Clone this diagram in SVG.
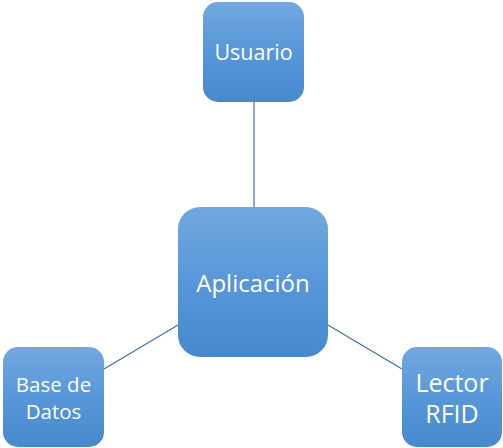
<svg xmlns="http://www.w3.org/2000/svg" width="503" height="448" viewBox="0 0 503 448">
  <style>
    .box { fill: url(#boxFill); }
    .lbl { fill: #ffffff; font-family: "Open Sans", "Liberation Sans", sans-serif; text-anchor: middle; dominant-baseline: central; }
    .link { stroke: #41719c; stroke-width: 1.2; fill: none; }
  </style>
  <defs>
    <linearGradient id="boxFill" x1="0" y1="0" x2="0" y2="1">
      <stop offset="0" stop-color="#72a8df"/>
      <stop offset="0.5" stop-color="#5797d9"/>
      <stop offset="1" stop-color="#4689cc"/>
    </linearGradient>
  </defs>
  <rect width="503" height="448" fill="#ffffff"/>
  <g id="connectors">
    <line class="link" x1="254" y1="102" x2="254" y2="207"/>
    <line class="link" x1="104" y1="369" x2="178" y2="325"/>
    <line class="link" x1="328" y1="325" x2="402" y2="369"/>
  </g>
  <g id="usuario">
    <rect class="box" x="203" y="2" width="101" height="100" rx="15"/>
    <text class="lbl" x="253.5" y="51" font-size="21.5">Usuario</text>
  </g>
  <g id="aplicacion">
    <rect class="box" x="178" y="207" width="150" height="150" rx="22"/>
    <text class="lbl" x="253" y="282" font-size="24">Aplicación</text>
  </g>
  <g id="base-datos">
    <rect class="box" x="3" y="347" width="101" height="100" rx="15"/>
    <text class="lbl" x="53.5" y="384" font-size="20.5">Base de</text>
    <text class="lbl" x="53.5" y="411" font-size="20.5">Datos</text>
  </g>
  <g id="lector-rfid">
    <rect class="box" x="402" y="347" width="100" height="100" rx="15"/>
    <text class="lbl" x="452" y="382" font-size="25">Lector</text>
    <text class="lbl" x="452" y="413" font-size="25">RFID</text>
  </g>
</svg>
